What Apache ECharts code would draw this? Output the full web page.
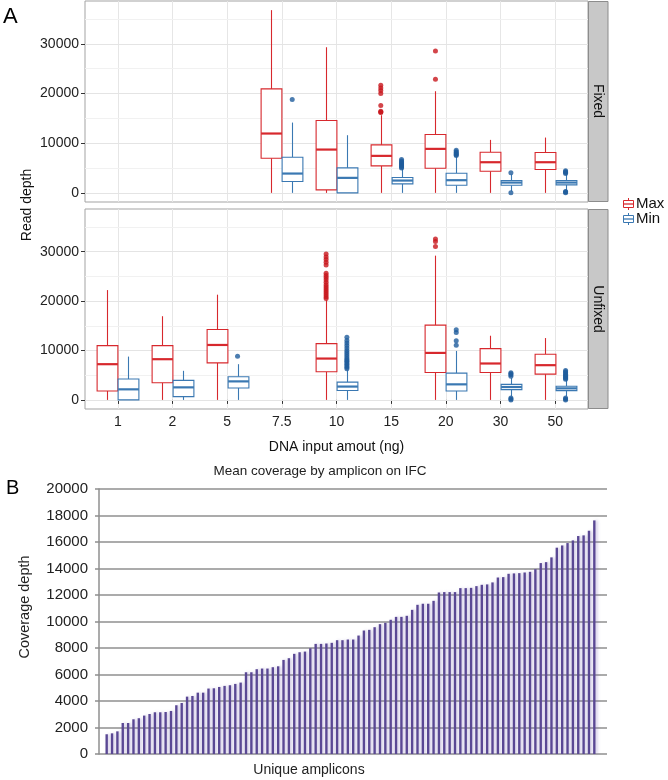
<!DOCTYPE html>
<html><head><meta charset="utf-8">
<script src="https://cdn.jsdelivr.net/npm/echarts@6/dist/echarts.min.js"></script>
<style>html,body{margin:0;padding:0;background:#fff}#c{width:668px;height:780px}</style>
</head><body><div id="c"></div>
<script>
// ---------- Panel A data ----------
const doses = ['1','2','5','7.5','10','15','20','30','50'];
const yTicksA = [0, 10000, 20000, 30000];
const yMinorA = [5000, 15000, 25000, 35000];
// box stats per dose: [low, q1, median, q3, high]  (null = not measured)
const fixedMax = [null, null, null,
  [0, 6980, 11950, 20940, 36800],
  [0, 600, 8720, 14560, 29330],
  [0, 5440, 7450, 9660, 15640],
  [0, 4970, 8860, 11740, 20470],
  [0, 4360, 6170, 8190, 10670],
  [0, 4700, 6170, 8120, 11140]];
const fixedMin = [null, null, null,
  [0, 2280, 3890, 7180, 14160],
  [0, 0, 3020, 5030, 11610],
  [0, 1810, 2480, 3090, 4850],
  [0, 1540, 2550, 3960, 7200],
  [300, 1540, 2080, 2480, 3700],
  [300, 1610, 2080, 2480, 3750]];
const unfixedMax = [
  [0, 1810, 7230, 10980, 22230],
  [0, 3480, 8240, 10980, 16940],
  [0, 7500, 11120, 14260, 21300],
  null,
  [0, 5700, 8370, 11400, 20160],
  null,
  [0, 5560, 9510, 15130, 29200],
  [0, 5560, 7370, 10380, 12990],
  [0, 5220, 7030, 9240, 12520]];
const unfixedMin = [
  [0, 0, 2140, 4220, 8770],
  [0, 670, 2540, 3950, 5890],
  [0, 2410, 3750, 4690, 7230],
  null,
  [0, 1900, 2700, 3600, 6000],
  null,
  [0, 1810, 3150, 5420, 9910],
  [740, 2080, 2610, 3150, 4420],
  [740, 1880, 2340, 2750, 4000]];
// outliers per dose
const fixedMaxOut = [[], [], [], [], [],
  [16170, 16300, 16440, 17580, 20000, 20600, 21140, 21680],
  [22890, 28590], [], []];
const fixedMinOut = [[], [], [], [18790], [],
  [5000, 5200, 5400, 5600, 5800, 6000, 6200, 6400, 6700],
  [7500, 7700, 7900, 8100, 8300, 8600],
  [4030, 0],
  [3900, 4100, 4250, 4430, 0, 150, 250]];
const unfixedMaxOut = [[], [], [], [],
  [20500, 20900, 21300, 21700, 22100, 22500, 22900, 23300, 23800, 24300, 24800, 25200, 25650, 27300, 27860, 28400, 28900, 29530],
  [],
  [31070, 32080, 32550], [], []];
const unfixedMinOut = [[], [], [8840], [],
  [6300, 6600, 6900, 7200, 7500, 7800, 8100, 8400, 8800, 9200, 9600, 10000, 10500, 11000, 11500, 12000, 12660],
  [],
  [11050, 11990, 13660, 14200],
  [4800, 5090, 5300, 5490, 0, 200, 400],
  [4200, 4400, 4600, 4800, 5000, 5200, 5500, 5700, 5960, 0, 200, 400]];

// ---------- Panel B data ----------
const coverage = [1490,1560,1710,2340,2340,2620,2700,2900,3020,3150,3150,3170,3250,3680,3850,4330,4380,4630,4630,4940,4960,5060,5140,5190,5290,5390,6170,6170,6400,6450,6450,6550,6620,7100,7230,7560,7680,7730,7980,8310,8310,8340,8390,8590,
  8590,8640,8640,8940,9320,9370,9570,9800,9900,10130,10350,10350,10430,10880,11260,11340,11340,11560,12190,12220,12220,12220,12520,12520,12540,12670,12770,12800,12950,13320,13350,13600,13630,13650,13700,13750,13950,14410,14480,14840,15570,15740,15920,16120,16450,16500,16850,17630];
const amplicons = coverage.map((_, i) => 'amp' + (i + 1));
const yTicksB = [0, 2000, 4000, 6000, 8000, 10000, 12000, 14000, 16000, 18000, 20000];

// ---------- styling constants ----------
const RED = '#d7282d', BLUE = '#3a78b2';
const RED_PT = '#c8161d', BLUE_PT = '#1f5c9c';
const FONT = 'Liberation Sans';
const BOX_W = 0.38, DODGE = 0.19;
const Y_MIN = -1840, Y_MAX = 38640;
const catPos = doses.map((_, i) => i + 1);
const plain = v => String(v);

function boxData(stats) {
  const out = [];
  stats.forEach((s, i) => { if (s) out.push([catPos[i]].concat(s)); });
  return out;
}
function outData(list, off) {
  const out = [];
  list.forEach((arr, i) => arr.forEach(v => out.push([catPos[i] + off, v])));
  return out;
}
function boxRender(off, color) {
  return function (params, api) {
    const x = api.value(0) + off;
    const pLo = api.coord([x, api.value(1)]);
    const pQ1 = api.coord([x, api.value(2)]);
    const pMed = api.coord([x, api.value(3)]);
    const pQ3 = api.coord([x, api.value(4)]);
    const pHi = api.coord([x, api.value(5)]);
    const w = api.size([BOX_W, 0])[0];
    const cx = Math.round(pLo[0]) + 0.5;
    return {
      type: 'group',
      children: [
        { type: 'line', shape: { x1: cx, y1: pHi[1], x2: cx, y2: pQ3[1] }, style: { stroke: color, lineWidth: 1.1 } },
        { type: 'line', shape: { x1: cx, y1: pQ1[1], x2: cx, y2: pLo[1] }, style: { stroke: color, lineWidth: 1.1 } },
        { type: 'rect', shape: { x: cx - w / 2, y: pQ3[1], width: w, height: pQ1[1] - pQ3[1] }, style: { fill: '#fff', stroke: color, lineWidth: 1.1 } },
        { type: 'line', shape: { x1: cx - w / 2, y1: pMed[1], x2: cx + w / 2, y2: pMed[1] }, style: { stroke: color, lineWidth: 2.2 } }
      ]
    };
  };
}

const gridA0 = { left: 85, top: 1, width: 503, height: 201, show: true, borderColor: '#a3a3a3', borderWidth: 1, backgroundColor: '#fff' };
const gridA1 = { left: 85, top: 209, width: 503, height: 200, show: true, borderColor: '#a3a3a3', borderWidth: 1, backgroundColor: '#fff' };
const gridB0 = { left: 99, right: 61, top: 489, bottom: 26 };
const gridB1 = { left: 104, right: 71, top: 489, bottom: 26 };

function xAxisA(gi, showLabels) {
  return {
    type: 'value', gridIndex: gi, min: 0.4, max: 9.6,
    axisLine: { show: false },
    axisTick: { show: showLabels, customValues: catPos, length: 4, lineStyle: { color: '#333' } },
    axisLabel: { show: showLabels, customValues: catPos, formatter: v => doses[Math.round(v) - 1] || '', color: '#222', fontFamily: FONT, fontSize: 14, margin: 6 },
    splitLine: { show: true, lineStyle: { color: '#e6e6e6', width: 1 } },
    name: showLabels ? 'DNA input amout (ng)' : '',
    nameLocation: 'middle', nameGap: 31,
    nameTextStyle: { fontFamily: FONT, fontSize: 14, color: '#111' }
  };
}
function yAxisA(gi) {
  return {
    type: 'value', gridIndex: gi, min: Y_MIN, max: Y_MAX, z: 2,
    axisLine: { show: false },
    axisTick: { show: true, customValues: yTicksA, length: 4, lineStyle: { color: '#333' } },
    axisLabel: { customValues: yTicksA, formatter: plain, color: '#222', fontFamily: FONT, fontSize: 14, margin: 6 },
    splitLine: { show: true, lineStyle: { color: '#e4e4e4', width: 1 } }
  };
}
function yAxisMinorA(gi) {
  return {
    type: 'value', gridIndex: gi, min: Y_MIN, max: Y_MAX, z: 1,
    axisLine: { show: false },
    axisTick: { show: false, customValues: yMinorA },
    axisLabel: { show: false, customValues: yMinorA },
    splitLine: { show: true, lineStyle: { color: '#f1f1f1', width: 1 } }
  };
}

const series = [
  { type: 'custom', name: 'Max', xAxisIndex: 0, yAxisIndex: 0, renderItem: boxRender(-DODGE, RED), data: boxData(fixedMax), encode: { x: 0, y: [1, 2, 3, 4, 5] }, z: 3 },
  { type: 'custom', name: 'Min', xAxisIndex: 0, yAxisIndex: 0, renderItem: boxRender(DODGE, BLUE), data: boxData(fixedMin), encode: { x: 0, y: [1, 2, 3, 4, 5] }, z: 3 },
  { type: 'custom', name: 'Max', xAxisIndex: 1, yAxisIndex: 1, renderItem: boxRender(-DODGE, RED), data: boxData(unfixedMax), encode: { x: 0, y: [1, 2, 3, 4, 5] }, z: 3 },
  { type: 'custom', name: 'Min', xAxisIndex: 1, yAxisIndex: 1, renderItem: boxRender(DODGE, BLUE), data: boxData(unfixedMin), encode: { x: 0, y: [1, 2, 3, 4, 5] }, z: 3 },
  { type: 'scatter', xAxisIndex: 0, yAxisIndex: 0, symbolSize: 5, itemStyle: { color: RED_PT }, data: outData(fixedMaxOut, -DODGE), z: 4 },
  { type: 'scatter', xAxisIndex: 0, yAxisIndex: 0, symbolSize: 5, itemStyle: { color: BLUE_PT }, data: outData(fixedMinOut, DODGE), z: 4 },
  { type: 'scatter', xAxisIndex: 1, yAxisIndex: 1, symbolSize: 5, itemStyle: { color: RED_PT }, data: outData(unfixedMaxOut, -DODGE), z: 4 },
  { type: 'scatter', xAxisIndex: 1, yAxisIndex: 1, symbolSize: 5, itemStyle: { color: BLUE_PT }, data: outData(unfixedMinOut, DODGE), z: 4 },
  { type: 'bar', xAxisIndex: 3, yAxisIndex: 5, data: coverage, barWidth: 2.4,
    itemStyle: { color: '#5a4894', shadowColor: 'rgba(120,100,180,0.35)', shadowBlur: 3, shadowOffsetX: 2, shadowOffsetY: 0 }, z: 3 }
];

function legendItem(y, color, label) {
  return [
    { type: 'line', shape: { x1: 628.5, y1: y - 6, x2: 628.5, y2: y + 6 }, style: { stroke: color, lineWidth: 1 } },
    { type: 'rect', shape: { x: 623.5, y: y - 3.5, width: 10, height: 7 }, style: { fill: '#fff', stroke: color, lineWidth: 1 } },
    { type: 'line', shape: { x1: 623.5, y1: y, x2: 633.5, y2: y }, style: { stroke: color, lineWidth: 1.3 } },
    { type: 'text', x: 636, y: y, style: { text: label, font: '15px ' + FONT, fill: '#111', verticalAlign: 'middle' } }
  ];
}

const graphics = [
  { type: 'text', x: 3, y: 17, style: { text: 'A', font: '22px ' + FONT, fill: '#000', verticalAlign: 'middle' } },
  { type: 'text', x: 6, y: 488, style: { text: 'B', font: '20px ' + FONT, fill: '#000', verticalAlign: 'middle' } },
  { type: 'rect', shape: { x: 588.5, y: 1.5, width: 19.5, height: 200 }, style: { fill: '#c8c8c8', stroke: '#8c8c8c', lineWidth: 1 } },
  { type: 'rect', shape: { x: 588.5, y: 209.5, width: 19.5, height: 199 }, style: { fill: '#c8c8c8', stroke: '#8c8c8c', lineWidth: 1 } },
  { type: 'text', x: 598, y: 101, rotation: -Math.PI / 2, style: { text: 'Fixed', font: '14px ' + FONT, fill: '#111', align: 'center', verticalAlign: 'middle' } },
  { type: 'text', x: 598, y: 309, rotation: -Math.PI / 2, style: { text: 'Unfixed', font: '14px ' + FONT, fill: '#111', align: 'center', verticalAlign: 'middle' } },
  { type: 'text', x: 27, y: 205, rotation: Math.PI / 2, style: { text: 'Read depth', font: '14px ' + FONT, fill: '#111', align: 'center', verticalAlign: 'middle' } },
  { type: 'text', x: 320, y: 471, style: { text: 'Mean coverage by amplicon on IFC', font: '13.5px ' + FONT, fill: '#222', align: 'center', verticalAlign: 'middle' } },
  { type: 'text', x: 25, y: 607, rotation: Math.PI / 2, style: { text: 'Coverage depth', font: '14.5px ' + FONT, fill: '#222', align: 'center', verticalAlign: 'middle' } },
  { type: 'text', x: 309, y: 770, style: { text: 'Unique amplicons', font: '14px ' + FONT, fill: '#222', align: 'center', verticalAlign: 'middle' } }
].concat(legendItem(204, RED, 'Max'), legendItem(219, BLUE, 'Min'));

const option = {
  animation: false,
  backgroundColor: '#fff',
  grid: [gridA0, gridA1, gridB0, gridB1],
  xAxis: [
    xAxisA(0, false),
    xAxisA(1, true),
    { type: 'value', gridIndex: 2, min: 0, max: 1, show: false },
    { type: 'category', gridIndex: 3, data: amplicons, show: false }
  ],
  yAxis: [
    yAxisA(0), yAxisA(1), yAxisMinorA(0), yAxisMinorA(1),
    { type: 'value', gridIndex: 2, min: 0, max: 20000,
      axisLine: { show: true, lineStyle: { color: '#8f8f8f', width: 1.5 } },
      axisTick: { show: true, customValues: yTicksB, length: 4, lineStyle: { color: '#8f8f8f', width: 1.5 } },
      axisLabel: { customValues: yTicksB, formatter: plain, color: '#222', fontFamily: FONT, fontSize: 15, margin: 11 },
      splitLine: { show: true, lineStyle: { color: '#8f8f8f', width: 1.5 } } },
    { type: 'value', gridIndex: 3, min: 0, max: 20000, show: false, splitLine: { show: false } }
  ],
  series: series,
  graphic: graphics
};
echarts.init(document.getElementById('c'), null, { renderer: 'canvas' }).setOption(option);
</script>
</body></html>
